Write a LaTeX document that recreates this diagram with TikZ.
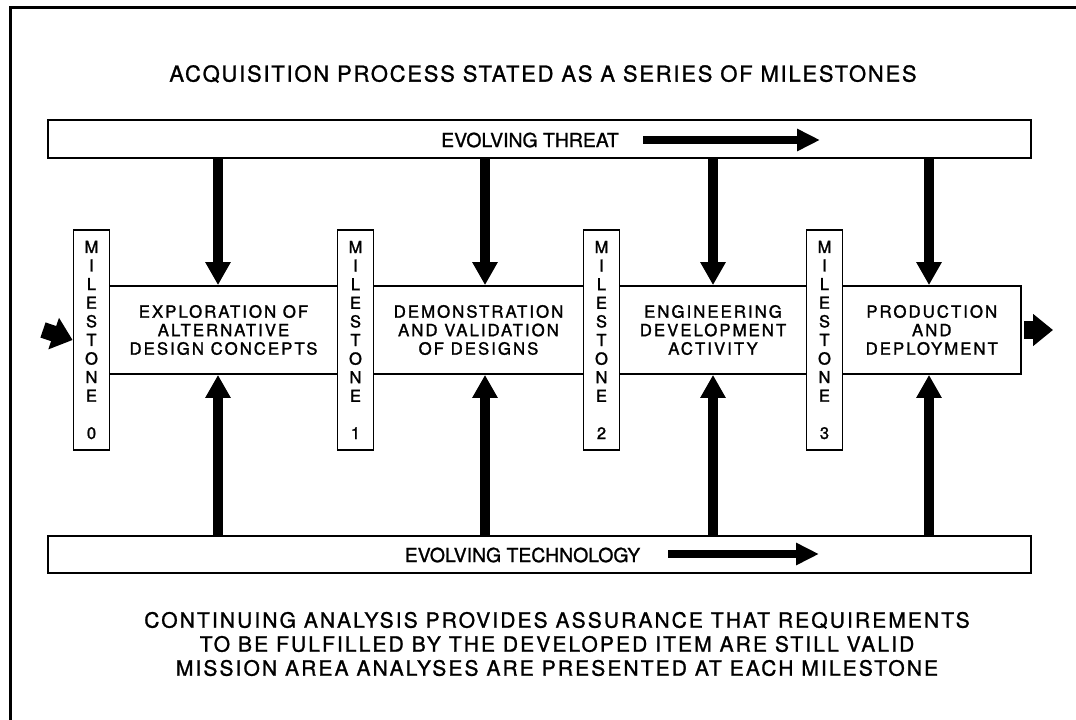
\documentclass[tikz,border=0pt]{standalone}
\usepackage{fontspec}
\setmainfont{TeX Gyre Heros}[FakeBold=1.2]
\newfontfamily\wide{TeX Gyre Heros}[LetterSpace=12,FakeBold=1.5]
\newfontfamily\titlef{TeX Gyre Heros}[LetterSpace=8,FakeBold=1.2]
\newfontfamily\notef{TeX Gyre Heros}[LetterSpace=10,FakeBold=1.2]
\usetikzlibrary{arrows.meta}
\tikzset{
  box/.style={draw, line width=1.8pt, inner sep=0pt},
  band/.style={box, minimum width=983, minimum height=38},
  mile/.style={box, fill=white, minimum width=36, minimum height=220,
     align=center, font=\wide\fontsize{16.5}{18.6}\selectfont},
  proc/.style={box, minimum height=88, align=center,
     font=\wide\fontsize{16.8}{18.5}\selectfont},
  lbl/.style={inner sep=0pt, font=\fontsize{19.4}{22}\selectfont},
  vert/.style={line width=10pt, -{Triangle[length=23pt,width=24pt]}},
  bandarrow/.style={line width=8pt, -{Triangle[length=23pt,width=21pt]}},
  fatarrow/.style={line width=16pt, -{Triangle[length=20pt,width=32pt]}},
}
\begin{document}
\begin{tikzpicture}[x=1pt,y=-1pt]
\useasboundingbox (0,0) rectangle (1076,720);
% frame
\coordinate (fb) at (10,722);
\coordinate (fc) at (10,7);
\coordinate (fr) at (1078,7);
\draw[line width=3pt] (fb) -- (fc) -- (fr);
% title
\node[inner sep=0pt, font=\titlef\fontsize{22}{26}\selectfont] (title) at (543,74)
  {ACQUISITION PROCESS STATED AS A SERIES OF MILESTONES};
% threat band
\node[band] (threat) at (539.5,139) {};
\node[lbl] (threatlbl) at (530,140) {EVOLVING THREAT};
\coordinate (ta1) at (643,140);
\coordinate (ta2) at (820,140);
\draw[bandarrow] (ta1) -- (ta2);
% technology band
\node[band, minimum height=37] (tech) at (539.5,554.5) {};
\node[lbl] (techlbl) at (522.5,555) {EVOLVING TECHNOLOGY};
\coordinate (tb1) at (668,554);
\coordinate (tb2) at (819,554);
\draw[bandarrow] (tb1) -- (tb2);
% process boxes
\node[proc, minimum width=228] (p1) at (223.5,330)
  {EXPLORATION OF\\ALTERNATIVE\\DESIGN CONCEPTS};
\node[proc, minimum width=210] (p2) at (478.5,330)
  {DEMONSTRATION\\AND VALIDATION\\OF DESIGNS};
\node[proc, minimum width=187] (p3) at (713,330)
  {ENGINEERING\\DEVELOPMENT\\ACTIVITY};
\node[proc, minimum width=178.5] (p4) at (931.75,330)
  {PRODUCTION\\AND\\DEPLOYMENT};
% milestones
\node[mile] (m0) at (91.5,340) {M\\I\\L\\E\\S\\T\\O\\N\\E\\[18.6pt]0};
\node[mile] (m1) at (355.5,340) {M\\I\\L\\E\\S\\T\\O\\N\\E\\[18.6pt]1};
\node[mile] (m2) at (601.5,340) {M\\I\\L\\E\\S\\T\\O\\N\\E\\[18.6pt]2};
\node[mile] (m3) at (824.5,340) {M\\I\\L\\E\\S\\T\\O\\N\\E\\[18.6pt]3};
% entry / exit
\coordinate (in) at (43,330);
\draw[fatarrow] (in) -- (m0.west);
\coordinate (outs) at (1024,330);
\coordinate (oute) at (1053,330);
\draw[fatarrow, line width=18pt, -{Triangle[length=20pt,width=31pt]}] (outs) -- (oute);
% vertical arrows
\coordinate (d1) at ([xshift=-5.5pt]p1.north);
\coordinate (d2) at ([xshift=6.5pt]p2.north);
\coordinate (d3) at (p3.north);
\coordinate (d4) at ([xshift=-2.75pt]p4.north);
\foreach \d/\p in {d1/p1,d2/p2,d3/p3,d4/p4}{
  \draw[vert] (\d |- threat.south) -- (\d |- \p.north);
  \draw[vert] (\d |- tech.north) -- (\d |- \p.south);
}
% bottom text
\node[inner sep=0pt, align=center, font=\notef\fontsize{21}{24}\selectfont] (note) at (557,644)
  {CONTINUING ANALYSIS PROVIDES ASSURANCE THAT REQUIREMENTS\\
   TO BE FULFILLED BY THE DEVELOPED ITEM ARE STILL VALID\\
   MISSION AREA ANALYSES ARE PRESENTED AT EACH MILESTONE};
\end{tikzpicture}
\end{document}
